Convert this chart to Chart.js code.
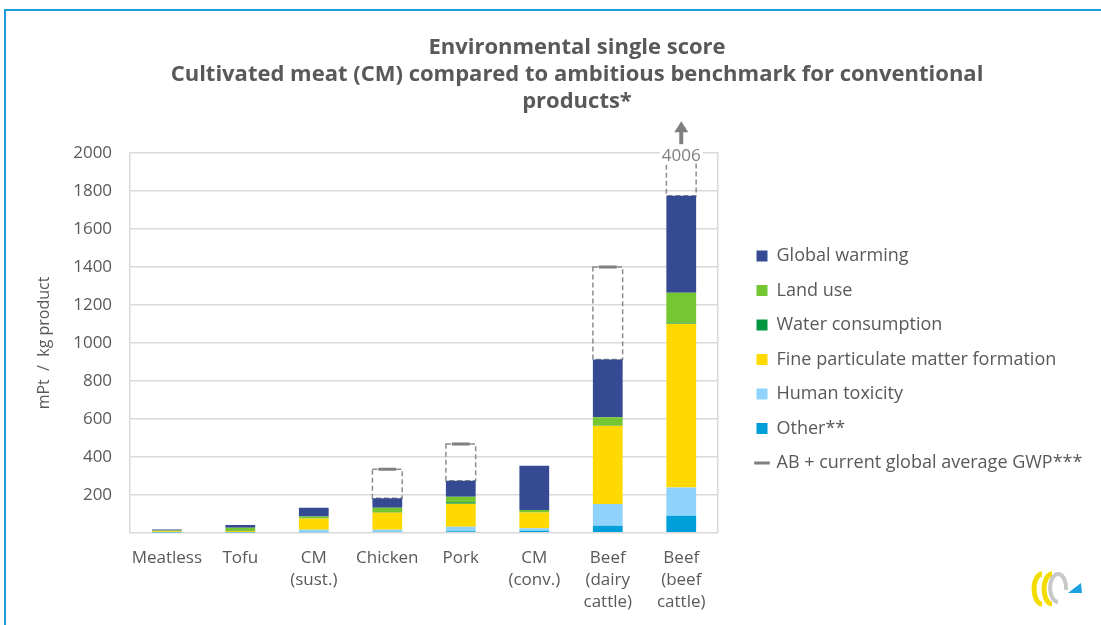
<!DOCTYPE html>
<html>
<head>
<meta charset="utf-8">
<script src="https://cdn.jsdelivr.net/npm/chart.js@4.4.0/dist/chart.umd.min.js"></script>
<style>
html,body{margin:0;padding:0;background:#fff;overflow:hidden;width:1101px;height:625px;}
#frame{position:absolute;left:4px;top:9px;width:1100px;height:620px;border-top:2px solid #1e9ad6;border-left:2px solid #1e9ad6;}
#wrap{position:absolute;left:0;top:0;width:1132px;height:627px;}
#logo{position:absolute;left:1028px;top:568px;}
</style>
</head>
<body>
<div id="frame"></div>
<div id="wrap"><canvas id="myChart"></canvas></div>
<svg id="logo" width="60" height="42" viewBox="0 0 60 42">
  <path d="M14 6 A8 15 0 1 0 14 36" fill="none" stroke="#f3dd00" stroke-width="5"/>
  <path d="M24 6 A8 15 0 1 0 24 36" fill="none" stroke="#f3dd00" stroke-width="5"/>
  <path d="M30 34 A8 14 0 1 1 38 22" fill="none" stroke="#c8c8c8" stroke-width="4"/>
  <polygon points="40,25 54,25 53,15" fill="#1aa3e0"/>
</svg>
<script>
// categories and values (mPt / kg product)
const categories = ["Meatless", "Tofu", ["CM", "(sust.)"], "Chicken", "Pork", ["CM", "(conv.)"], ["Beef", "(dairy", "cattle)"], ["Beef", "(beef", "cattle)"]];
const globalWarming = [5, 14, 46, 50, 84, 233, 305, 512];
const landUse = [3, 12, 9, 23, 30, 13, 42, 158];
const waterConsumption = [2, 4, 1, 3, 7, 1, 3, 5];
const fineParticulate = [3, 6, 59, 91, 121, 82, 412, 863];
const humanToxicity = [3, 3, 13, 10, 24, 14, 114, 149];
const other = [1, 1, 3, 5, 8, 10, 37, 89];
const abGwp = [null, null, null, 335, 467, null, 1400, 4006];
const yTicks = [0, 200, 400, 600, 800, 1000, 1200, 1400, 1600, 1800, 2000];

const txt = "#595959";
const fam = "'Open Sans', sans-serif";
const stackSeries = [other, humanToxicity, fineParticulate, waterConsumption, landUse, globalWarming];

// dashed box between the stack top and the AB value, plus the off-scale arrow
const abBoxes = {
  id: "abBoxes",
  beforeDatasetsDraw(chart) {
    const {ctx, scales: {x, y}} = chart;
    const meta = chart.getDatasetMeta(1);
    ctx.save();
    ctx.setLineDash([5, 3]);
    ctx.strokeStyle = "#8c8c8c";
    ctx.lineWidth = 1.5;
    abGwp.forEach((v, i) => {
      if (v === null) return;
      const total = stackSeries.reduce((s, arr) => s + arr[i], 0);
      const w = meta.data[i].width;
      const cx = x.getPixelForValue(i);
      const top = y.getPixelForValue(Math.min(v, y.max));
      const bot = y.getPixelForValue(total);
      ctx.strokeRect(cx - w / 2, top, w, bot - top);
    });
    ctx.restore();
  },
  afterDraw(chart) {
    const {ctx, scales: {x, y}} = chart;
    ctx.save();
    abGwp.forEach((v, i) => {
      if (v === null || v <= y.max) return;
      const cx = x.getPixelForValue(i);
      const top = y.getPixelForValue(y.max);
      ctx.font = "17px " + fam;
      const tw = ctx.measureText(String(v)).width;
      ctx.fillStyle = "#fff";
      ctx.fillRect(cx - tw / 2 - 2, top - 6, tw + 4, 16);
      ctx.fillStyle = "#7f7f7f";
      ctx.textAlign = "center";
      ctx.textBaseline = "middle";
      ctx.fillText(String(v), cx, top + 3);
      ctx.fillRect(cx - 2, top - 22, 4, 13);
      ctx.beginPath();
      ctx.moveTo(cx - 7, top - 21);
      ctx.lineTo(cx + 7, top - 21);
      ctx.lineTo(cx, top - 32);
      ctx.closePath();
      ctx.fill();
    });
    ctx.restore();
  }
};

const barSet = (label, data, color) => ({
  type: "bar", label: label, data: data, backgroundColor: color,
  borderWidth: 0, barPercentage: 0.405, categoryPercentage: 1
});

new Chart(document.getElementById("myChart"), {
  data: {
    labels: categories,
    datasets: [
      {
        type: "line", label: "AB + current global average GWP***", data: abGwp,
        showLine: false, pointStyle: "line", pointRadius: 9, pointHoverRadius: 9,
        pointBorderWidth: 3, borderColor: "#7f7f7f", backgroundColor: "#7f7f7f"
      },
      barSet("Other**", other, "#009fda"),
      barSet("Human toxicity", humanToxicity, "#8fd3fd"),
      barSet("Fine particulate matter formation", fineParticulate, "#ffd900"),
      barSet("Water consumption", waterConsumption, "#00953f"),
      barSet("Land use", landUse, "#74c732"),
      barSet("Global warming", globalWarming, "#354a93")
    ]
  },
  options: {
    responsive: true,
    maintainAspectRatio: false,
    animation: false,
    events: [],
    layout: {padding: {left: 22, right: 0, top: 0, bottom: 0}},
    plugins: {
      title: {
        display: true,
        text: ["Environmental single score", "Cultivated meat (CM) compared to ambitious benchmark for conventional", "products*"],
        color: txt,
        font: {family: fam, size: 22, weight: "bold", lineHeight: 1.23},
        padding: {top: 34, bottom: 38}
      },
      legend: {
        position: "right",
        fullSize: false,
        reverse: true,
        maxWidth: 392,
        title: {display: true, text: "", padding: 0, font: {size: 10, lineHeight: "33px"}},
        labels: {
          usePointStyle: true,
          boxWidth: 11,
          boxHeight: 11,
          padding: 16.5,
          color: txt,
          font: {family: fam, size: 18},
          generateLabels(chart) {
            const items = Chart.defaults.plugins.legend.labels.generateLabels(chart);
            items.forEach(it => {
              if (it.datasetIndex === 0) {
                it.pointStyle = "line"; it.lineWidth = 3; it.strokeStyle = "#7f7f7f";
                it.text = it.text + "              ";
              } else {
                it.pointStyle = "rect"; it.lineWidth = 0;
              }
            });
            return items;
          }
        }
      },
      tooltip: {enabled: false}
    },
    scales: {
      x: {
        stacked: true,
        grid: {display: false, drawTicks: false},
        border: {display: false},
        ticks: {color: txt, font: {family: fam, size: 17, lineHeight: 1.3}, padding: 14, maxRotation: 0, autoSkip: false}
      },
      y: {
        stacked: true,
        min: yTicks[0],
        max: yTicks[yTicks.length - 1],
        afterBuildTicks: s => { s.ticks = yTicks.map(v => ({value: v})); },
        ticks: {color: txt, font: {family: fam, size: 17}, padding: 18, callback: v => v === 0 ? "" : v},
        grid: {color: "#d9d9d9", lineWidth: 1.5, drawTicks: false},
        border: {display: true, color: "#d9d9d9", width: 1.5},
        title: {display: true, text: "mPt  /  kg product", color: txt, font: {family: fam, size: 16}, padding: {top: 13, bottom: 1}}
      },
      y2: {
        position: "right",
        min: 0,
        max: 2000,
        grid: {display: false},
        ticks: {display: false},
        border: {display: true, color: "#d9d9d9", width: 1.5},
        afterFit: s => { s.width = 22; }
      }
    }
  },
  plugins: [abBoxes]
});
</script>
</body>
</html>
